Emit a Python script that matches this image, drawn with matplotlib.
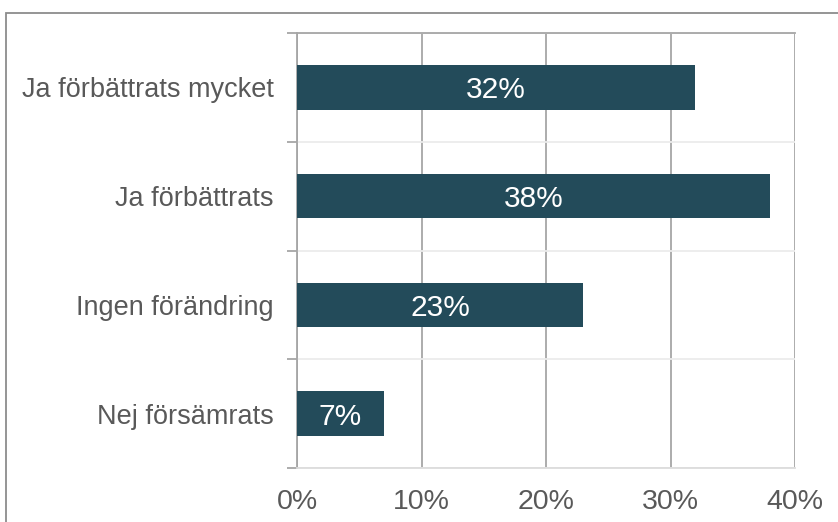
import numpy as np
import matplotlib
matplotlib.use("Agg")
import matplotlib.pyplot as plt
from matplotlib.patches import Rectangle

plt.rcParams["font.family"] = ["Liberation Sans", "DejaVu Sans"]

categories = ["Ja förbättrats mycket", "Ja förbättrats", "Ingen förändring", "Nej försämrats"]
shares = [32, 38, 23, 7]
x_ticks = [0, 10, 20, 30, 40]

BAR = "#234b5a"
TXT = "#595959"
GRID = "#a6a6a6"

fig = plt.figure(figsize=(8.38, 5.22), dpi=100)
ax = fig.add_axes([297 / 838, 1 - 468 / 522, (795 - 297) / 838, (468 - 33) / 522])

# outer frame, only the top and left edges fall inside the canvas
fig.patches.append(Rectangle((6 / 838, -0.1), 1.2, 1 - 12.5 / 522 + 0.1,
                             transform=fig.transFigure, fill=False,
                             ec="#8c8c8c", lw=1.3))

y = np.arange(len(categories))
bars = ax.barh(y, shares, height=0.41, color=BAR, zorder=3)
for b, v in zip(bars, shares):
    ax.text(b.get_width() / 2, b.get_y() + b.get_height() / 2, f"{v}%",
            ha="center", va="center_baseline", color="white", fontsize=21.5, zorder=4)

ax.set_xlim(0, 40)
ax.set_ylim(len(categories) - 0.5, -0.5)
ax.set_xticks(x_ticks)
ax.set_xticklabels([f"{t}%" for t in x_ticks])
ax.set_yticks(y)
ax.set_yticklabels(categories)
ax.set_yticks(np.arange(-0.5, len(categories)), minor=True)

ax.tick_params(axis="x", length=0, pad=15, labelsize=20.5, labelcolor=TXT)
ax.tick_params(axis="y", which="major", length=0, pad=17, labelsize=19.5, labelcolor=TXT)
ax.tick_params(axis="y", which="minor", length=7, width=1.3, color=GRID)

ax.grid(axis="x", color=GRID, lw=1.3, zorder=1)
ax.grid(axis="y", which="minor", color="#ececec", lw=1.3, zorder=1)
ax.set_axisbelow(True)

ax.spines["left"].set_color(GRID)
ax.spines["left"].set_linewidth(1.3)
ax.spines["top"].set_color(GRID)
ax.spines["top"].set_linewidth(1.3)
ax.spines["bottom"].set_color("#dcdcdc")
ax.spines["bottom"].set_linewidth(1.3)
ax.spines["right"].set_visible(False)

fig.savefig("out.png", dpi=100, facecolor="white")
